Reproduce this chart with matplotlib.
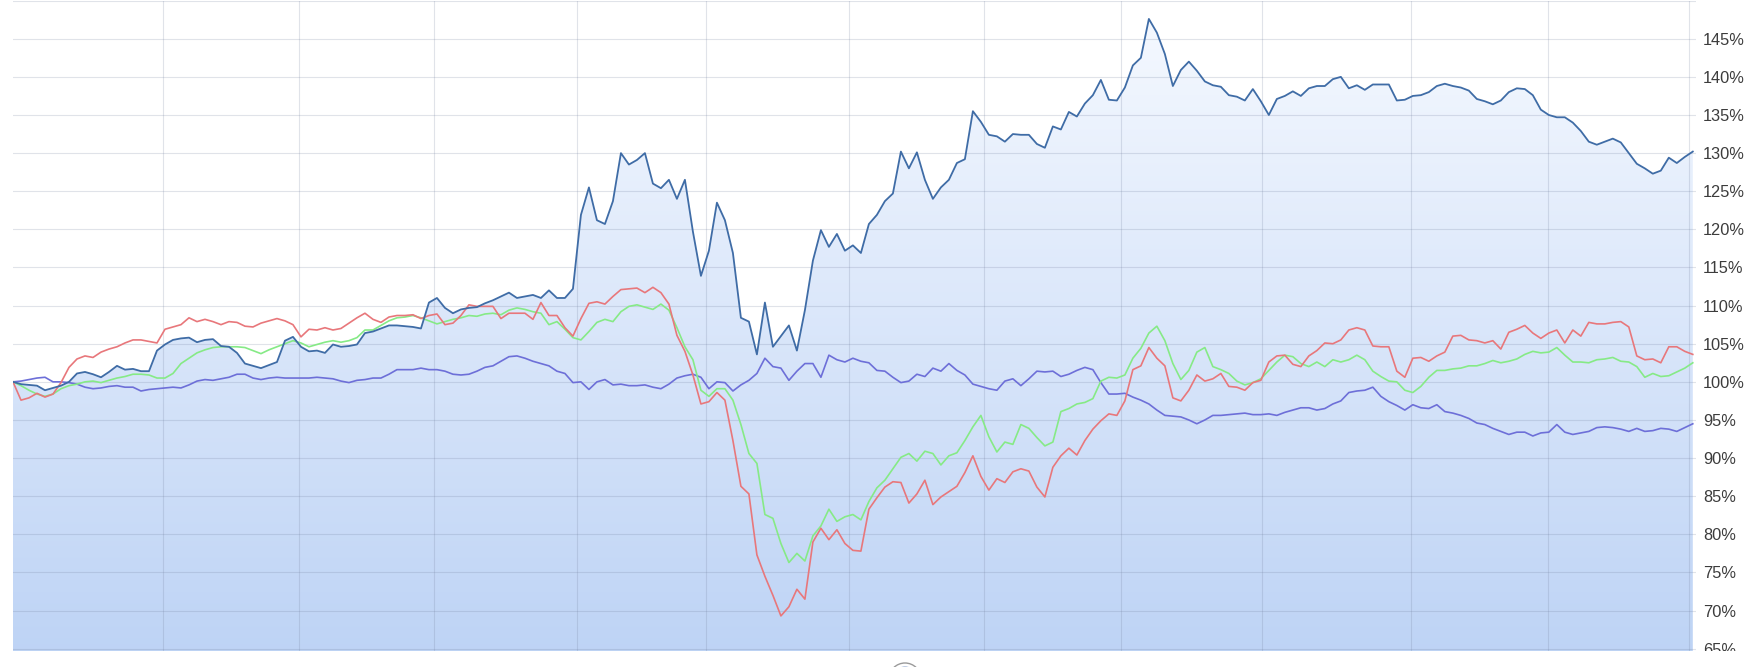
import numpy as np
import matplotlib
matplotlib.use("Agg")
import matplotlib.pyplot as plt
from matplotlib.patches import Circle, Rectangle
from matplotlib.transforms import IdentityTransform
from matplotlib.ticker import FuncFormatter

# ---------------- data (percent of starting value, sampled evenly in time) ----------------
portfolio = [
    100.0, 99.7, 99.6, 99.5, 98.9, 99.2, 99.5, 100.0, 101.1, 101.3, 101.0, 100.6, 101.3, 102.1, 101.6, 101.7,
    101.4, 101.4, 104.1, 104.9, 105.5, 105.7, 105.8, 105.2, 105.5, 105.6, 104.7, 104.6, 103.8, 102.4, 102.1,
    101.8, 102.2, 102.6, 105.4, 105.9, 104.6, 104.0, 104.1, 103.8, 104.9, 104.6, 104.7, 104.9, 106.4, 106.6,
    107.0, 107.4, 107.4, 107.3, 107.2, 107.0, 110.4, 111.0, 109.7, 109.0, 109.5, 109.7, 109.8, 110.3, 110.7,
    111.2, 111.7, 111.0, 111.2, 111.4, 111.0, 112.0, 111.0, 111.0, 112.2, 121.9, 125.5, 121.2, 120.7, 123.7,
    130.0, 128.5, 129.1, 130.0, 126.0, 125.4, 126.5, 124.0, 126.5, 119.7, 113.9, 117.2, 123.5, 121.2, 116.9,
    108.4, 107.9, 103.6, 110.4, 104.6, 106.0, 107.4, 104.1, 109.4, 115.9, 119.9, 117.7, 119.4, 117.2, 117.9,
    116.9, 120.7, 121.9, 123.7, 124.7, 130.2, 128.0, 130.1, 126.5, 124.0, 125.5, 126.5, 128.7, 129.2, 135.5,
    134.1, 132.4, 132.2, 131.5, 132.5, 132.4, 132.4, 131.2, 130.7, 133.5, 133.1, 135.4, 134.8, 136.5, 137.6,
    139.6, 137.0, 136.9, 138.6, 141.5, 142.5, 147.6, 145.8, 143.0, 138.8, 140.9, 142.0, 140.8, 139.4, 138.9,
    138.7, 137.6, 137.4, 136.9, 138.4, 136.8, 135.0, 137.1, 137.5, 138.1, 137.5, 138.5, 138.8, 138.8, 139.7,
    140.0, 138.5, 138.9, 138.3, 139.0, 139.0, 139.0, 136.9, 137.0, 137.5, 137.6, 138.0, 138.8, 139.1, 138.8,
    138.6, 138.2, 137.1, 136.8, 136.4, 136.9, 138.0, 138.5, 138.4, 137.6, 135.7, 135.0, 134.7, 134.7, 134.0,
    132.9, 131.5, 131.1, 131.5, 131.9, 131.4, 130.0, 128.6, 128.0, 127.3, 127.7, 129.4, 128.7, 129.5, 130.2,
]
red_series = [
    100.0, 97.6, 97.9, 98.5, 98.0, 98.4, 99.9, 101.9, 103.0, 103.4, 103.2, 103.9, 104.3, 104.6, 105.1, 105.5,
    105.5, 105.3, 105.1, 106.9, 107.2, 107.5, 108.4, 107.9, 108.2, 107.9, 107.5, 107.9, 107.8, 107.3, 107.2,
    107.7, 108.0, 108.3, 108.0, 107.5, 105.9, 106.9, 106.8, 107.1, 106.8, 107.0, 107.7, 108.4, 109.0, 108.2,
    107.8, 108.5, 108.7, 108.7, 108.8, 108.3, 108.7, 108.9, 107.5, 107.7, 108.7, 110.1, 109.9, 109.9, 109.9,
    108.3, 109.0, 109.0, 109.0, 108.2, 110.4, 108.7, 108.7, 107.1, 106.0, 108.3, 110.3, 110.5, 110.2, 111.2,
    112.1, 112.2, 112.3, 111.7, 112.4, 111.7, 110.2, 106.1, 104.0, 100.9, 97.1, 97.4, 98.6, 97.6, 92.3,
    86.3, 85.3, 77.3, 74.5, 72.0, 69.3, 70.5, 72.8, 71.5, 79.0, 80.8, 79.3, 80.6, 78.8, 77.9,
    77.8, 83.3, 84.8, 86.2, 86.9, 86.8, 84.1, 85.3, 87.1, 83.9, 84.9, 85.6, 86.3, 88.1, 90.3,
    87.6, 85.8, 87.3, 86.8, 88.2, 88.6, 88.3, 86.2, 84.9, 88.8, 90.3, 91.3, 90.4, 92.3, 93.8,
    94.9, 95.8, 95.6, 97.5, 101.6, 102.1, 104.5, 103.1, 102.1, 97.9, 97.5, 98.9, 100.9, 100.1, 100.4,
    101.1, 99.4, 99.3, 98.9, 99.9, 100.2, 102.6, 103.4, 103.5, 102.3, 102.0, 103.4, 104.1, 105.1, 105.0,
    105.5, 106.8, 107.1, 106.8, 104.7, 104.6, 104.6, 101.4, 100.6, 103.1, 103.2, 102.7, 103.4, 103.9, 106.0,
    106.1, 105.5, 105.4, 105.1, 105.4, 104.3, 106.5, 106.9, 107.4, 106.4, 105.7, 106.4, 106.8, 105.1, 106.8,
    106.0, 107.8, 107.6, 107.6, 107.8, 107.9, 107.2, 103.4, 102.9, 103.0, 102.5, 104.6, 104.6, 104.0, 103.6,
]
green_series = [
    100.0, 99.5, 98.9, 98.4, 98.1, 98.4, 99.1, 99.5, 99.7, 100.0, 100.1, 99.9, 100.2, 100.5, 100.7, 101.0,
    101.0, 100.9, 100.5, 100.5, 101.1, 102.4, 103.1, 103.8, 104.2, 104.5, 104.6, 104.6, 104.6, 104.5, 104.1,
    103.7, 104.2, 104.6, 105.0, 105.4, 105.1, 104.6, 104.9, 105.2, 105.4, 105.2, 105.4, 105.8, 106.8, 106.8,
    107.4, 108.0, 108.4, 108.5, 108.7, 108.4, 108.0, 107.6, 107.9, 108.2, 108.4, 108.7, 108.6, 108.9, 109.0,
    108.8, 109.4, 109.7, 109.5, 109.2, 109.0, 107.5, 107.9, 106.9, 105.8, 105.5, 106.6, 107.8, 108.2, 107.9,
    109.2, 109.9, 110.1, 109.8, 109.5, 110.2, 109.4, 107.1, 104.6, 102.9, 98.9, 98.1, 99.1, 99.1, 97.6,
    94.4, 90.6, 89.3, 82.6, 82.1, 78.8, 76.3, 77.5, 76.5, 79.8, 81.1, 83.3, 81.7, 82.3, 82.6,
    81.9, 84.3, 86.1, 87.1, 88.6, 90.1, 90.6, 89.6, 90.9, 90.6, 89.1, 90.3, 90.7, 92.3, 94.1,
    95.6, 92.8, 90.8, 92.1, 91.8, 94.4, 93.9, 92.7, 91.6, 92.1, 96.1, 96.5, 97.1, 97.3, 97.8,
    100.1, 100.6, 100.5, 100.9, 103.1, 104.4, 106.4, 107.3, 105.4, 102.4, 100.3, 101.5, 103.9, 104.5, 102.0,
    101.6, 101.1, 100.1, 99.6, 99.9, 100.4, 101.5, 102.6, 103.5, 103.3, 102.4, 102.0, 102.6, 102.0, 102.9,
    102.6, 102.9, 103.5, 102.9, 101.4, 100.7, 100.1, 100.0, 98.9, 98.6, 99.4, 100.6, 101.5, 101.5, 101.7,
    101.8, 102.1, 102.1, 102.4, 102.8, 102.5, 102.7, 103.0, 103.6, 104.0, 103.8, 103.9, 104.5, 103.5, 102.6,
    102.6, 102.5, 102.9, 103.0, 103.2, 102.7, 102.6, 102.0, 100.6, 101.1, 100.7, 100.8, 101.3, 101.8, 102.5,
]
purple_series = [
    100.0, 100.1, 100.3, 100.5, 100.6, 100.0, 100.0, 99.9, 99.7, 99.3, 99.1, 99.2, 99.4, 99.5, 99.3, 99.3,
    98.8, 99.0, 99.1, 99.2, 99.3, 99.2, 99.6, 100.1, 100.3, 100.2, 100.4, 100.6, 101.0, 101.0, 100.5,
    100.3, 100.5, 100.6, 100.5, 100.5, 100.5, 100.5, 100.6, 100.5, 100.4, 100.1, 99.9, 100.2, 100.3, 100.5,
    100.5, 101.0, 101.6, 101.6, 101.6, 101.8, 101.6, 101.6, 101.4, 101.0, 100.9, 101.0, 101.4, 101.9, 102.1,
    102.7, 103.3, 103.4, 103.1, 102.7, 102.4, 102.1, 101.4, 101.1, 99.9, 100.0, 99.0, 100.0, 100.3, 99.6,
    99.7, 99.5, 99.5, 99.6, 99.3, 99.1, 99.7, 100.5, 100.8, 101.0, 100.6, 99.1, 100.0, 99.9, 98.8,
    99.6, 100.2, 101.1, 103.1, 102.0, 101.8, 100.2, 101.4, 102.4, 102.4, 100.6, 103.5, 102.9, 102.6, 103.1,
    102.7, 102.5, 101.5, 101.4, 100.6, 99.9, 100.1, 101.0, 100.7, 101.8, 101.4, 102.4, 101.5, 100.9, 99.7,
    99.4, 99.1, 98.9, 100.1, 100.4, 99.5, 100.4, 101.4, 101.3, 101.4, 100.7, 101.0, 101.5, 101.9, 101.6,
    99.9, 98.4, 98.4, 98.5, 98.0, 97.6, 97.1, 96.3, 95.6, 95.5, 95.4, 95.0, 94.5, 95.0, 95.6,
    95.6, 95.7, 95.8, 95.9, 95.7, 95.7, 95.8, 95.6, 96.0, 96.3, 96.6, 96.6, 96.3, 96.5, 97.1,
    97.5, 98.6, 98.8, 98.9, 99.3, 98.1, 97.4, 96.9, 96.3, 97.0, 96.6, 96.5, 97.0, 96.1, 95.9,
    95.6, 95.2, 94.6, 94.4, 93.9, 93.5, 93.1, 93.4, 93.4, 92.9, 93.3, 93.4, 94.4, 93.4, 93.1,
    93.3, 93.5, 94.0, 94.1, 94.0, 93.8, 93.5, 93.9, 93.5, 93.6, 93.9, 93.8, 93.5, 94.0, 94.5,
]
# month boundaries (in sample units) used for the vertical grid
month_starts = [18.7, 35.8, 52.6, 70.5, 86.6, 104.5, 121.4, 138.5, 156.1, 174.8, 191.9, 209.5]
y_ticks = list(range(65, 150, 5))

# ---------------- figure ----------------
W, H, DPI = 1763, 667, 100
fig = plt.figure(figsize=(W / DPI, H / DPI), dpi=DPI)
ax = fig.add_axes([13 / W, 1 - 651 / H, (1696 - 13) / W, (651 - 1) / H])

x = np.arange(len(portfolio))
ymin, ymax = 64.7, 149.95
ax.set_xlim(0, len(portfolio) - 1 + 0.4)
ax.set_ylim(ymin, ymax)

# gradient area under the main series
top_c = np.array([0.965, 0.978, 1.0])
bot_c = np.array([0.745, 0.830, 0.962])
t = np.linspace(0, 1, 256)[:, None]
grad = (top_c[None, :] * (1 - t) + bot_c[None, :] * t)[:, None, :]
fill = ax.fill_between(x, ymin, portfolio, facecolor='none', edgecolor='none')
img = ax.imshow(grad, extent=[0, len(portfolio) - 1, ymin, ymax], aspect='auto',
                origin='upper', zorder=1, interpolation='bilinear')
img.set_clip_path(fill.get_paths()[0], transform=ax.transData)

# grid
gcol = (0.45, 0.50, 0.62, 0.22)
for v in y_ticks + [150]:
    ax.axhline(v, color=gcol, lw=0.8, zorder=2)
for m in month_starts:
    ax.axvline(m, color=gcol, lw=0.8, zorder=2)

# lines
ax.plot(x, purple_series, color='#6d6fd8', lw=1.2, zorder=4)
ax.plot(x, green_series, color='#86ea86', lw=1.2, zorder=4)
ax.plot(x, red_series, color='#e8777b', lw=1.2, zorder=4)
ax.plot(x, portfolio, color='#3f6ca6', lw=1.3, zorder=5)

for s in ax.spines.values():
    s.set_visible(False)
ax.set_xticks([])
ax.yaxis.tick_right()
ax.set_yticks(y_ticks)
ax.yaxis.set_major_formatter(FuncFormatter(lambda v, p: f"{int(round(v))}%"))
ax.tick_params(axis='y', length=0, pad=5, labelsize=11.8, labelcolor='#3c3c3c')
for lab in ax.get_yticklabels():
    lab.set_fontfamily(['Liberation Sans', 'DejaVu Sans'])

# cover strip below the plot (clips the lowest label) and the navigator handle
fig.add_artist(Rectangle((0, 0), 1, 1 - 651 / H, transform=fig.transFigure,
                         facecolor='white', edgecolor='none', zorder=10))
fig.add_artist(Circle((905, H - 679), 16, transform=IdentityTransform(),
                      facecolor='white', edgecolor='#9a9a9a', lw=1.0, zorder=11))
fig.add_artist(Circle((905, H - 679), 12, transform=IdentityTransform(),
                      facecolor='#cfdcf2', edgecolor='#8ea6cf', lw=0.8, zorder=12))

fig.savefig('out.png', dpi=DPI, facecolor='white')
